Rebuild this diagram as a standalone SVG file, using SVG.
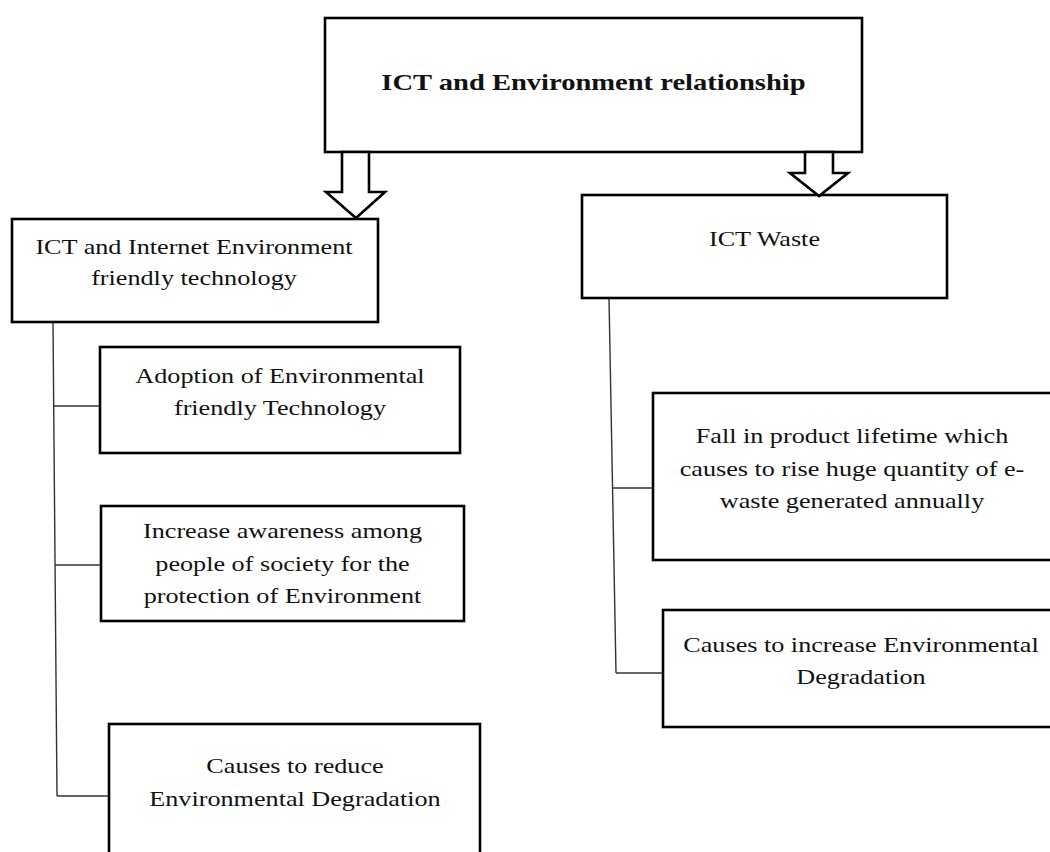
<svg xmlns="http://www.w3.org/2000/svg" width="1050" height="852" viewBox="0 0 1050 852">
<style>
.box{fill:#fff;stroke:#000;stroke-width:2.6}
.conn{fill:none;stroke:#333;stroke-width:1.4}
.arrow{fill:#fff;stroke:#000;stroke-width:2.6;stroke-linejoin:miter}
.t{font-family:"Liberation Serif","Times New Roman",serif;font-size:22px;fill:#111;text-anchor:middle;transform-box:fill-box;transform-origin:center;transform:scaleX(1.19)}
.b{font-weight:bold;font-size:24px}
</style>
<rect width="1050" height="852" fill="#fff"/>
<g id="connectors">
<polyline class="conn" points="53,322 57,796"/>
<line class="conn" x1="53" y1="406" x2="100" y2="406"/>
<line class="conn" x1="55" y1="565" x2="101" y2="565"/>
<line class="conn" x1="57" y1="796" x2="109" y2="796"/>
<polyline class="conn" points="609,298 616,673"/>
<line class="conn" x1="612" y1="488" x2="653" y2="488"/>
<line class="conn" x1="616" y1="673" x2="663" y2="673"/>
</g>
<g id="root">
<rect class="box" x="325" y="18" width="537" height="134"/>
<text class="t b" x="593.5" y="90">ICT and Environment relationship</text>
</g>
<g id="left">
<rect class="box" x="12" y="219" width="366" height="103"/>
<text class="t" x="194" y="254"><tspan x="194">ICT and Internet Environment</tspan><tspan x="194" y="285">friendly technology</tspan></text>
</g>
<g id="waste">
<rect class="box" x="582" y="195" width="365" height="103"/>
<text class="t" x="764.5" y="246">ICT Waste</text>
</g>
<g id="adoption">
<rect class="box" x="100" y="347" width="360" height="106"/>
<text class="t" x="280" y="383"><tspan x="280">Adoption of Environmental</tspan><tspan x="280" y="415">friendly Technology</tspan></text>
</g>
<g id="awareness">
<rect class="box" x="101" y="506" width="363" height="115"/>
<text class="t" x="282.5" y="538"><tspan x="282.5">Increase awareness among</tspan><tspan x="282.5" y="571">people of society for the</tspan><tspan x="282.5" y="603">protection of Environment</tspan></text>
</g>
<g id="reduce">
<rect class="box" x="109" y="724" width="371" height="140"/>
<text class="t" x="295" y="773"><tspan x="295">Causes to reduce</tspan><tspan x="295" y="806">Environmental Degradation</tspan></text>
</g>
<g id="lifetime">
<rect class="box" x="653" y="393" width="410" height="167"/>
<text class="t" x="852" y="443"><tspan x="852">Fall in product lifetime which</tspan><tspan x="852" y="476">causes to rise huge quantity of e-</tspan><tspan x="852" y="508">waste generated annually</tspan></text>
</g>
<g id="increase">
<rect class="box" x="663" y="610" width="400" height="117"/>
<text class="t" x="861" y="652"><tspan x="861">Causes to increase Environmental</tspan><tspan x="861" y="684">Degradation</tspan></text>
</g>
<g id="arrows">
<polygon class="arrow" points="342,152 342,192 326,192 356,218 385,192 369,192 369,152"/>
<polygon class="arrow" points="805,152 805,173 790,173 819,196 848,173 833,173 833,152"/>
</g>
</svg>
